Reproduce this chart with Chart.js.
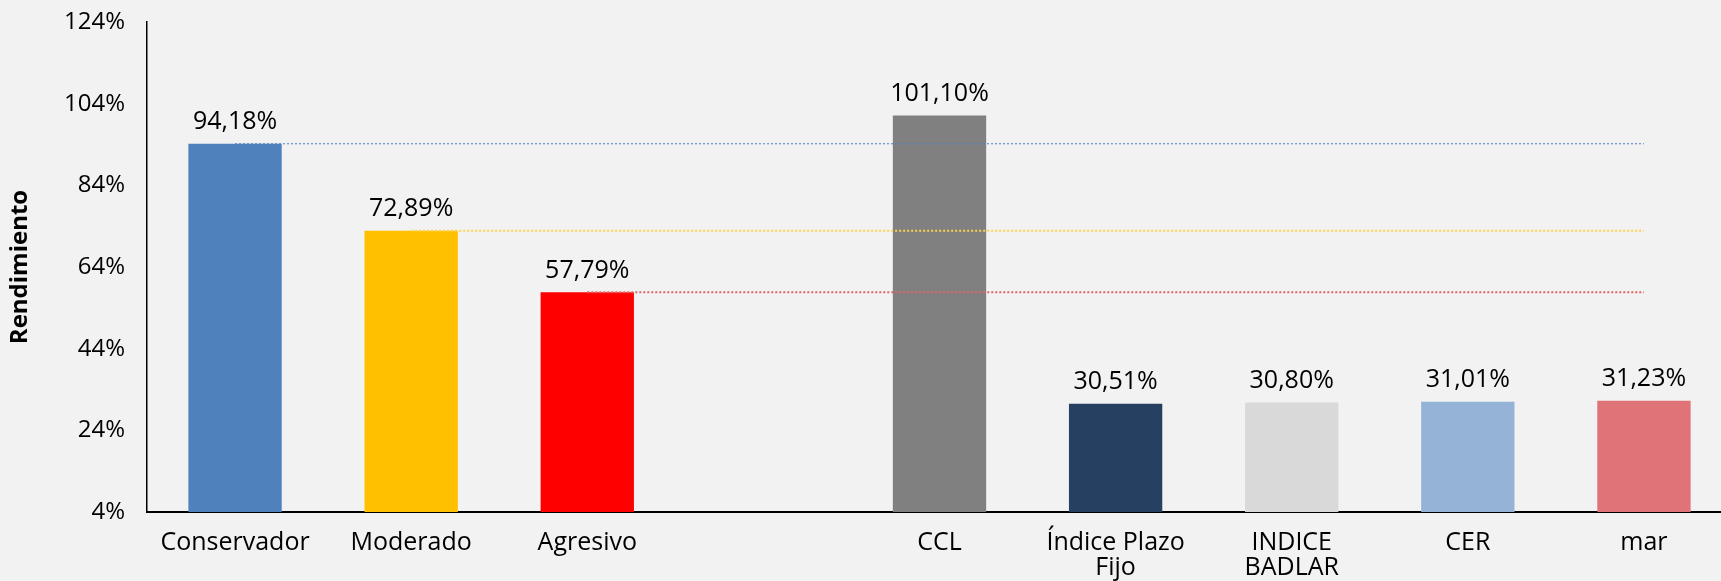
<!DOCTYPE html>
<html>
<head>
<meta charset="utf-8">
<script src="https://cdn.jsdelivr.net/npm/chart.js@4"></script>
<style>
  html, body { margin: 0; padding: 0; background: #F2F2F2; overflow: hidden; }
  #wrap { position: absolute; left: 0; top: 0; width: 1740px; height: 581px; }
</style>
</head>
<body>
<div id="wrap"><canvas id="chart-rend"></canvas></div>
<script>
const categories = ["Conservador", "Moderado", "Agresivo", "", "CCL", ["Índice Plazo", "Fijo"], ["INDICE", "BADLAR"], "CER", "mar"];
const rendimiento = [94.18, 72.89, 57.79, null, 101.10, 30.51, 30.80, 31.01, 31.23];
const barColors = ["#4F81BD", "#FFC000", "#FF0000", "#F2F2F2", "#808080", "#254061", "#D9D9D9", "#95B3D7", "#DF7377"];
// dotted reference lines start at the three portfolios
const refIndex = [0, 1, 2];
const refColors = ["#4F81BD", "#FFD34D", "#E06666"];
const refWidths = [1, 2, 2];
const yTicks = [4, 24, 44, 64, 84, 104, 124];

const FONT = "'Open Sans', sans-serif";
const fmt = (v) => v.toFixed(2).replace(".", ",") + "%";

const valueLabels = {
  id: "valueLabels",
  afterDatasetsDraw(chart) {
    const meta = chart.getDatasetMeta(0);
    const ctx = chart.ctx;
    ctx.save();
    ctx.font = "500 25px " + FONT;
    ctx.fillStyle = "#000";
    ctx.textAlign = "center";
    ctx.textBaseline = "bottom";
    meta.data.forEach((bar, i) => {
      const v = rendimiento[i];
      if (v == null) return;
      ctx.fillText(fmt(v), bar.x, bar.y - 9);
    });
    ctx.restore();
  },
};

const refDatasets = refIndex.map((idx, k) => ({
  type: "line",
  data: categories.map((_, j) => (j >= idx ? rendimiento[idx] : null)),
  borderColor: refColors[k],
  borderWidth: refWidths[k],
  borderDash: [2, 2],
  pointRadius: 0,
  fill: false,
  order: 0,
}));

new Chart(document.getElementById("chart-rend"), {
  type: "bar",
  data: {
    labels: categories,
    datasets: [
      {
        data: rendimiento,
        backgroundColor: barColors,
        borderWidth: 0,
        categoryPercentage: 1,
        barPercentage: 0.53,
        order: 1,
      },
      ...refDatasets,
    ],
  },
  options: {
    responsive: true,
    maintainAspectRatio: false,
    animation: false,
    layout: { padding: { left: 0, right: 8, top: 22, bottom: 0 } },
    plugins: { legend: { display: false }, tooltip: { enabled: false } },
    scales: {
      x: {
        grid: { display: false, drawTicks: false },
        border: { display: true, color: "#000", width: 2 },
        ticks: {
          color: "#000",
          font: { family: FONT, size: 25, weight: 500, lineHeight: 1.0 },
          padding: 18,
          maxRotation: 0,
          autoSkip: false,
        },
        afterFit: (scale) => { scale.height = 69; },
      },
      y: {
        min: yTicks[0],
        max: yTicks[yTicks.length - 1],
        afterBuildTicks: (scale) => { scale.ticks = yTicks.map((v) => ({ value: v })); },
        grid: { display: false, drawTicks: false },
        border: { display: true, color: "#000", width: 1.5 },
        ticks: {
          color: "#000",
          font: { family: FONT, size: 24, weight: 500 },
          padding: 22,
          callback: (v) => v + "%",
        },
        title: {
          display: true,
          text: "Rendimiento",
          color: "#000",
          font: { family: FONT, size: 24, weight: "bold" },
          padding: { top: 6, bottom: 0 },
        },
        afterFit: (scale) => {
          scale.width = 147;
          scale.paddingTop = 0;
          scale.paddingBottom = 0;
        },
      },
    },
  },
  plugins: [valueLabels],
});
</script>
</body>
</html>
